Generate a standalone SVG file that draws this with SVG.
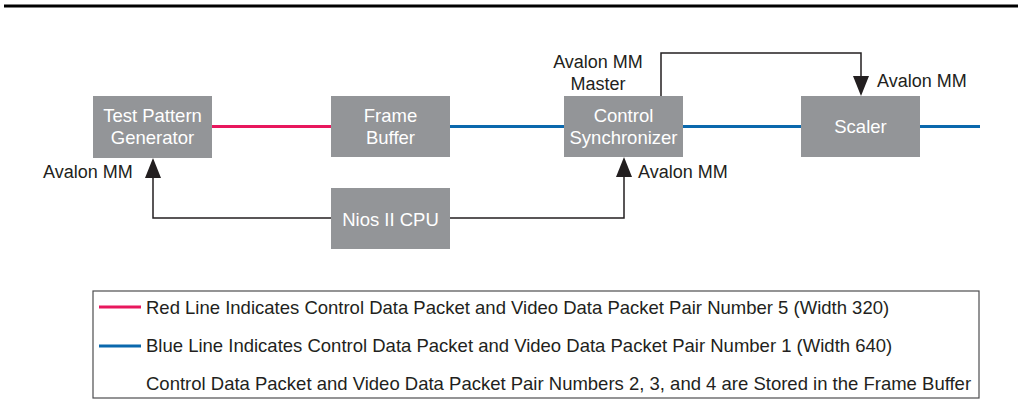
<svg xmlns="http://www.w3.org/2000/svg" width="1018" height="419" viewBox="0 0 1018 419">
<defs>
<style>
.box{fill:#939598}
.bt{font-family:"Liberation Sans",Arial,sans-serif;font-size:18.5px;fill:#ffffff;text-anchor:middle}
.lbl{font-family:"Liberation Sans",Arial,sans-serif;font-size:18px;fill:#231f20}
.leg{font-family:"Liberation Sans",Arial,sans-serif;font-size:18.5px;fill:#231f20}
.red{stroke:#e8175d;stroke-width:3;fill:none}
.blue{stroke:#0a68ad;stroke-width:3;fill:none}
.ctl{stroke:#231f20;stroke-width:1.5;fill:none}
.ah{fill:#231f20}
</style>
</defs>
<rect width="1018" height="419" fill="#ffffff"/>
<line x1="4" y1="6" x2="1018" y2="6" stroke="#000" stroke-width="3"/>
<g id="connectors">
<line class="red" x1="212" y1="126.5" x2="331" y2="126.5"/>
<line class="blue" x1="450" y1="126.5" x2="564" y2="126.5"/>
<line class="blue" x1="683" y1="126.5" x2="801" y2="126.5"/>
<line class="blue" x1="920" y1="126.5" x2="980" y2="126.5"/>
<polyline class="ctl" points="331,218 153,218 153,176"/>
<polygon class="ah" points="153,158 145,178 161,178"/>
<polyline class="ctl" points="450,218 624,218 624,176"/>
<polygon class="ah" points="624,157 616,177 632,177"/>
<polyline class="ctl" points="661,96 661,53 861,53 861,79"/>
<polygon class="ah" points="861,96 853,76 869,76"/>
</g>
<g id="tpg">
<rect class="box" x="93" y="96" width="119" height="62"/>
<text class="bt" x="152.5" y="122">Test Pattern</text>
<text class="bt" x="152.5" y="144">Generator</text>
</g>
<g id="framebuffer">
<rect class="box" x="331" y="96" width="119" height="61"/>
<text class="bt" x="390.5" y="122">Frame</text>
<text class="bt" x="390.5" y="144">Buffer</text>
</g>
<g id="controlsync">
<rect class="box" x="564" y="96" width="119" height="61"/>
<text class="bt" x="623.5" y="122">Control</text>
<text class="bt" x="623.5" y="144">Synchronizer</text>
</g>
<g id="scaler">
<rect class="box" x="801" y="96" width="119" height="61"/>
<text class="bt" x="860.5" y="133">Scaler</text>
</g>
<g id="nios">
<rect class="box" x="331" y="188" width="119" height="61"/>
<text class="bt" x="390.5" y="226">Nios II CPU</text>
</g>
<g id="labels">
<text class="lbl" x="43" y="178">Avalon MM</text>
<text class="lbl" x="638" y="178">Avalon MM</text>
<text class="lbl" x="598" y="68" text-anchor="middle">Avalon MM</text>
<text class="lbl" x="598" y="90" text-anchor="middle">Master</text>
<text class="lbl" x="877" y="87">Avalon MM</text>
</g>
<g id="legend">
<rect x="93" y="291" width="886" height="107" fill="none" stroke="#4d4d4f" stroke-width="1.2"/>
<line class="red" x1="99" y1="307" x2="141" y2="307"/>
<line class="blue" x1="99" y1="346" x2="141" y2="346"/>
<text class="leg" x="146" y="314">Red Line Indicates Control Data Packet and Video Data Packet Pair Number 5 (Width 320)</text>
<text class="leg" x="146" y="352">Blue Line Indicates Control Data Packet and Video Data Packet Pair Number 1 (Width 640)</text>
<text class="leg" x="146" y="390">Control Data Packet and Video Data Packet Pair Numbers 2, 3, and 4 are Stored in the Frame Buffer</text>
</g>
</svg>
